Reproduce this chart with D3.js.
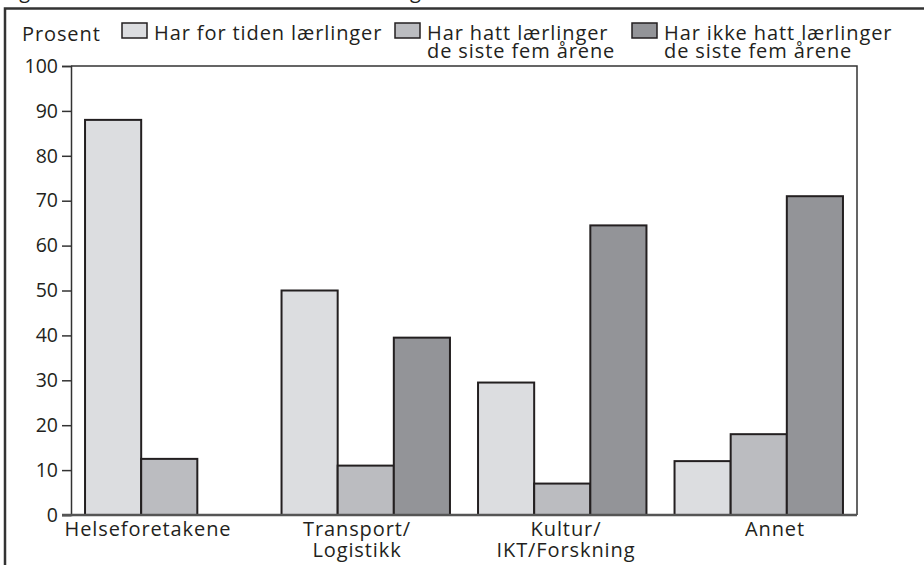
<!DOCTYPE html>
<html>
<head>
<meta charset="utf-8">
<title>Lærlinger etter sektor</title>
<script src="https://cdnjs.cloudflare.com/ajax/libs/d3/7.8.5/d3.min.js"></script>
<style>
  body { margin: 0; background: #fff; }
  svg text { font-family: "Open Sans", "Noto Sans", sans-serif; fill: #231f20; letter-spacing: 0.9px; }
</style>
</head>
<body>
<svg id="chart" width="924" height="565"></svg>
<script>
// data
var categories = ["Helseforetakene", "Transport/\nLogistikk", "Kultur/\nIKT/Forskning", "Annet"];
var seriesNames = ["Har for tiden lærlinger", "Har hatt lærlinger\nde siste fem årene", "Har ikke hatt lærlinger\nde siste fem årene"];
var harNaa = [88, 50, 29.5, 12];
var harHatt = [12.5, 11, 7, 18];
var ikkeHatt = [null, 39.5, 64.5, 71];
var yTicks = [0, 10, 20, 30, 40, 50, 60, 70, 80, 90, 100];
var colors = ["#dcdde0", "#bbbcc0", "#939498"];

var svg = d3.select("#chart");
var pLeft = 71, pRight = 857, pTop = 66, pBottom = 515;

// frame round the whole figure (right and bottom go off the picture)
svg.append("text").attr("x", 2).attr("y", -2).style("font-size", "20px")
  .text("Figur 4.1 Andel virksomheter med lærlinger etter sektor");
svg.append("rect").attr("x", 5).attr("y", 8.5).attr("width", 1000).attr("height", 1000)
  .attr("fill", "none").attr("stroke", "#333").attr("stroke-width", 2.5);

var x0 = d3.scaleBand().domain(categories).range([pLeft, pRight]);
var x1 = d3.scaleBand().domain([0, 1, 2]).range([0, x0.bandwidth()]).paddingOuter(0.25);
var y = d3.scaleLinear().domain([0, 100]).range([pBottom, pTop]);

// plot box (top + right)
svg.append("path").attr("d", "M" + pLeft + "," + pTop + "H" + pRight + "V" + pBottom)
  .attr("fill", "none").attr("stroke", "#333").attr("stroke-width", 1.5);

var rows = [];
[harNaa, harHatt, ikkeHatt].forEach(function(vals, s) {
  vals.forEach(function(v, i) {
    if (v != null) rows.push({cat: categories[i], s: s, v: v});
  });
});

svg.append("g").selectAll("rect").data(rows).enter().append("rect")
  .attr("x", function(d) { return x0(d.cat) + x1(d.s); })
  .attr("y", function(d) { return y(d.v); })
  .attr("width", x1.bandwidth())
  .attr("height", function(d) { return pBottom - y(d.v); })
  .attr("fill", function(d) { return colors[d.s]; })
  .attr("stroke", "#231f20").attr("stroke-width", 2);

// y axis
var yAxis = svg.append("g").attr("transform", "translate(" + pLeft + ",0)")
  .call(d3.axisLeft(y).tickValues(yTicks).tickSize(9).tickPadding(4));
yAxis.select(".domain").attr("stroke", "#333").attr("stroke-width", 1.5);
yAxis.selectAll(".tick line").attr("stroke", "#333").attr("stroke-width", 1.5);
yAxis.selectAll("text").attr("fill", "#231f20").style("font-size", "19.5px")
  .style("font-family", "'Open Sans', sans-serif").style("letter-spacing", "0px");

// baseline
svg.append("line").attr("x1", pLeft - 9).attr("x2", pRight).attr("y1", pBottom).attr("y2", pBottom)
  .attr("stroke", "#555").attr("stroke-width", 2.5);

// category labels (not centred on the groups in the original)
var xl = d3.scalePoint().domain(categories).range([148, 775]);
var cl = svg.append("g").selectAll("text").data(categories).enter().append("text")
  .attr("x", function(d) { return xl(d); })
  .attr("y", 536)
  .attr("text-anchor", "middle")
  .style("font-size", "20px");
cl.each(function(d) {
  var t = d3.select(this);
  d.split("\n").forEach(function(line, i) {
    t.append("tspan").attr("x", xl(d)).attr("dy", i ? 21 : 0).text(line);
  });
});

// legend
svg.append("text").attr("x", 22).attr("y", 41).style("font-size", "20px").text("Prosent");
var legX = [122, 395, 632];
var leg = svg.append("g").selectAll("g").data(seriesNames).enter().append("g")
  .attr("transform", function(d, i) { return "translate(" + legX[i] + ",0)"; });
leg.append("rect").attr("x", 0).attr("y", 23).attr("width", 25).attr("height", 15)
  .attr("fill", function(d, i) { return colors[i]; })
  .attr("stroke", "#231f20").attr("stroke-width", 1.5);
leg.append("text").attr("x", 32).attr("y", 40).style("font-size", "20px")
  .each(function(d) {
    var t = d3.select(this);
    d.split("\n").forEach(function(line, i) {
      t.append("tspan").attr("x", 32).attr("dy", i ? 18 : 0).text(line);
    });
  });
</script>
</body>
</html>
